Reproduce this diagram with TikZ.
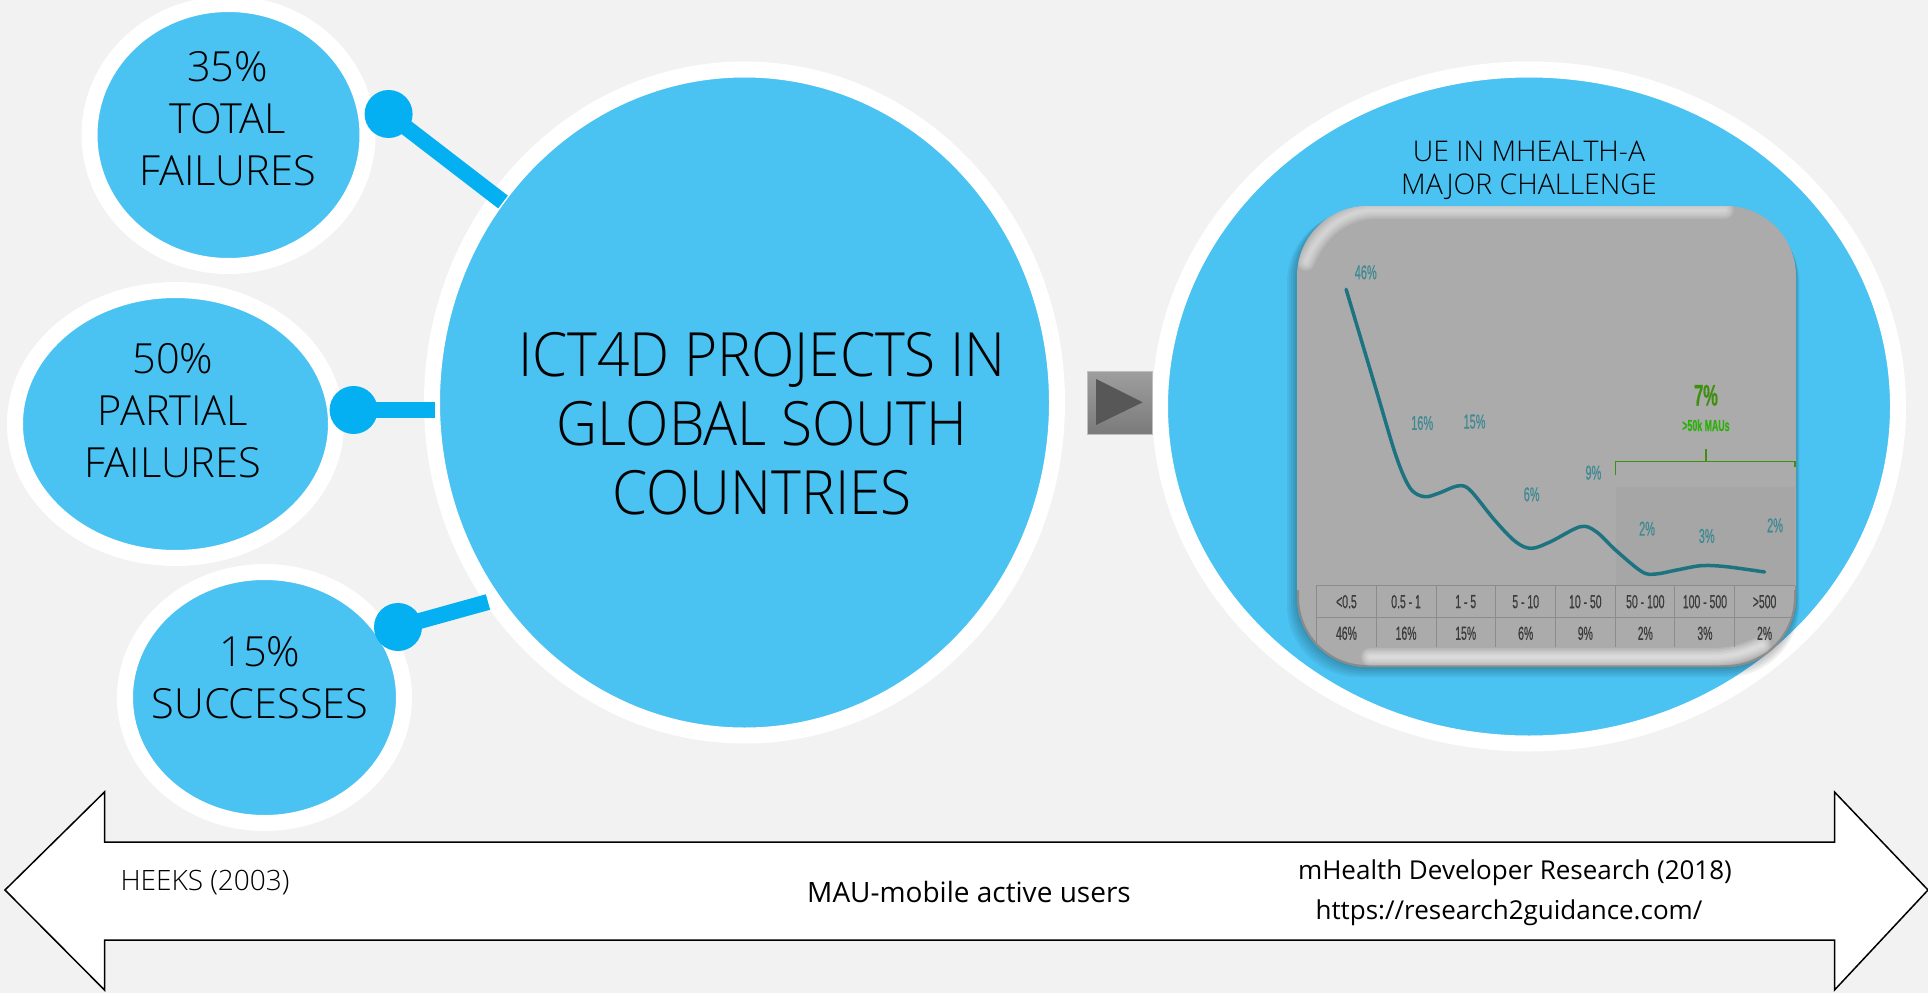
\documentclass[tikz,border=0pt]{standalone}
\usepackage{fontspec}
\usetikzlibrary{shapes.geometric,calc}
\setmainfont{Open Sans}
\newfontfamily\lightf{Open Sans Light}
\newfontfamily\mainf[FakeStretch=0.93]{Open Sans Light}
\newfontfamily\chartf[FakeStretch=0.55,FakeBold=0.5]{Liberation Sans}
\definecolor{bgc}{HTML}{F2F2F2}
\definecolor{blobc}{HTML}{4AC2F2}
\definecolor{dotc}{HTML}{05B0F2}
\definecolor{panelc}{HTML}{ABABAB}
\definecolor{tealc}{HTML}{1D7480}
\definecolor{labc}{HTML}{3F8A92}
\definecolor{gridc}{HTML}{8C8C8C}
\definecolor{tabc}{HTML}{3C3C3C}
\definecolor{greenc}{HTML}{3F8F10}
\tikzset{
  blob/.style={ellipse,draw=white,line width=16pt,fill=blobc,inner sep=0pt,align=center,text=black},
  stem/.style={draw=dotc,line width=16pt},
  knob/.style={circle,fill=dotc,minimum size=48pt,inner sep=0pt},
  smalltxt/.style={font=\lightf\fontsize{41.5}{52}\selectfont,align=center,text=black},
  val/.style={font=\chartf\fontsize{20}{20}\selectfont,text=labc},
  tab/.style={font=\chartf\fontsize{19}{19}\selectfont,text=tabc},
}
\begin{document}
\begin{tikzpicture}[x=1pt,y=-1pt]
\useasboundingbox (0,0) rectangle (1928,993);
\fill[bgc] (0,0) rectangle (1928,993);
% circles
\node[blob,minimum width=278pt,minimum height=262pt] (total) at (228.5,135) {};
\node[blob,minimum width=321pt,minimum height=268pt] (partial) at (175.5,424) {};
\node[blob,minimum width=279pt,minimum height=251pt] (succ) at (264.5,697.5) {};
\node[blob,minimum width=625pt,minimum height=666pt] (main) at (744.5,402.5) {};
\node[blob,minimum width=738pt,minimum height=674pt] (right) at (1529,406.5) {};
% labels
\node[smalltxt] (ttotal) at (227.5,118.5) {35\%\\TOTAL\\FAILURES};
\node[smalltxt] (tpartial) at (173,410.5) {50\%\\PARTIAL\\FAILURES};
\node[smalltxt] (tsucc) at (260,678) {15\%\\SUCCESSES};
\node[font=\mainf\fontsize{61}{69}\selectfont,align=center] (tmain) at (762,424) {ICT4D PROJECTS IN\\GLOBAL SOUTH\\COUNTRIES};
\node[font=\lightf\fontsize{28.5}{33}\selectfont,align=center] (tright) at (1529,170) {UE IN MHEALTH-A\\MAJOR CHALLENGE};
% connectors
\node[knob] (k1) at (388.6,114) {};
\node[knob] (k2) at (353.6,410) {};
\node[knob] (k3) at (398,627) {};
\coordinate (m1) at (503,202);
\coordinate (m2) at (435,410);
\coordinate (m3) at (488,602);
\draw[stem] (k1.center) -- (m1);
\draw[stem] (k2.center) -- (m2);
\draw[stem] (k3.center) -- (m3);
% play button
\shade[top color=black!38,bottom color=black!52] (1087,371) rectangle (1152,434);
\draw[black!25,line width=.7pt] (1087,371) rectangle (1152,434);
\fill[black!66] (1096,379) -- (1142.7,402.3) -- (1096,425) -- cycle;
% panel shadow
\foreach \sh in {10,8,6,4,2}{
  \fill[black,opacity=.05,rounded corners=72pt] (1297-\sh,206+\sh/2) rectangle (1796+\sh/3,667+\sh);
}
\fill[panelc,rounded corners=70pt] (1297,206) rectangle (1796,667);
\begin{scope}
\clip[rounded corners=70pt] (1297,206) rectangle (1796,667);
% dark rim at the bottom
\draw[black!60,line width=4pt,opacity=.45,rounded corners=70pt] (1297,590) -- (1297,667) -- (1796,667) -- (1796,590);
% highlights
\foreach \hw in {3,6,9,12,15,18}{
  \draw[white,opacity=.11,line width=\hw pt,line cap=round] (1306,262) .. controls (1318,232) and (1342,212) .. (1372,210) -- (1725,210);
  \draw[white,opacity=.14,line width=\hw pt,line cap=round] (1370,657) -- (1712,657) .. controls (1735,657) and (1750,650) .. (1762,645);
}
\begin{scope}[shift={(1270,180)},x=0.35076pt,y=-0.33333pt]
\fill[black,opacity=.025] (985,920) rectangle (1497,1215);
\draw[tealc,line width=3.5pt,line cap=round] plot[smooth,tension=.55] coordinates {(217,328) (300,620) (360,830) (400,925) (440,950) (480,940) (535,918) (570,930) (640,1020) (700,1085) (745,1105) (800,1085) (885,1040) (930,1055) (985,1110) (1060,1175) (1100,1182) (1160,1170) (1230,1157) (1300,1160) (1410,1176)};
\node[val] (v1) at (273,277) {46\%};
\node[val] (v2) at (434,729) {16\%};
\node[val] (v3) at (583,725) {15\%};
\node[val] (v4) at (746,943) {6\%};
\node[val] (v5) at (922,878) {9\%};
\node[val] (v6) at (1075,1046) {2\%};
\node[val] (v7) at (1245,1068) {3\%};
\node[val] (v8) at (1440,1036) {2\%};
\node[font=\chartf\bfseries\fontsize{30}{30}\selectfont,text=greenc] (g1) at (1243,646) {7\%};
\node[font=\chartf\bfseries\fontsize{16}{16}\selectfont,text=greenc!70!green] (g2) at (1243,736) {>50k MAUs};
\draw[greenc,line width=1.5pt] (985,885) -- (985,845) -- (1497,845) -- (1497,860);
\draw[greenc,line width=1.5pt] (1243,845) -- (1243,808);
\draw[gridc,line width=1pt] (132,1217) -- (1497,1217) (132,1312) -- (1497,1312);
\foreach \gx in {132,303,475,642,813,985,1154,1325}{\draw[gridc,line width=.8pt] (\gx,1217) -- (\gx,1400);}
\draw[gridc,line width=.8pt] (1497,1217) -- (1497,1312);
\foreach \tx/\ta/\tb in {218/{<0.5}/46\%,388/{0.5 - 1}/16\%,558/{1 - 5}/15\%,729/{5 - 10}/6\%,899/{10 - 50}/9\%,1070/{50 - 100}/2\%,1240/{100 - 500}/3\%,1410/{>500}/2\%}{
  \node[tab] at (\tx,1265) {\ta};
  \node[tab] at (\tx,1360) {\tb};
}
\end{scope}
\end{scope}
% arrow
\coordinate (al) at (5,890);
\coordinate (ar) at (1928,890);
\draw[fill=white,line width=1.5pt,draw=black] (al) -- (104.5,792) -- (104.5,842) -- (1834.5,842) -- (1834.5,792) -- (ar) -- (1834.5,990) -- (1834.5,940) -- (104.5,940) -- (104.5,990) -- cycle;
\node[font=\lightf\fontsize{28}{28}\selectfont,text=black] (heeks) at (205,883) {HEEKS (2003)};
\node[font=\fontsize{28}{28}\selectfont] (mau) at (969,892) {MAU-mobile active users};
\node[font=\fontsize{26}{26}\selectfont] (mh) at (1515,873) {mHealth Developer Research (2018)};
\node[font=\fontsize{26}{26}\selectfont] (url) at (1509,913) {https://research2guidance.com/};
\end{tikzpicture}
\end{document}
